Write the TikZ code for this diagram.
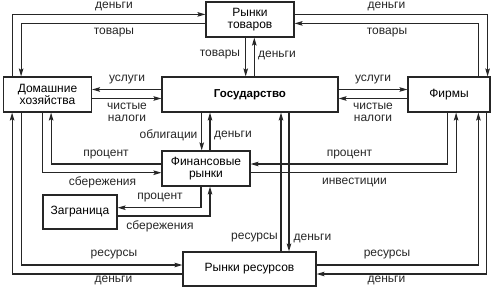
\documentclass[tikz,border=0pt]{standalone}
\usepackage{fontspec}
\setmainfont{Liberation Sans}
\usetikzlibrary{arrows.meta, calc}
\tikzset{
  market_box/.style={rectangle, draw=black!85, line width=1.2pt, align=center, inner sep=0pt, font=\fontsize{12}{12.7}\selectfont},
  flow_label/.style={align=center, inner sep=0pt, text=black!85, font=\fontsize{12}{11.5}\selectfont},
  arrow/.style={-{Stealth[length=8pt, width=4.6pt, inset=1.5pt]}, line width=1.1pt, black!85}
}

\begin{document}
\begin{tikzpicture}[x=1pt, y=-1pt]
\useasboundingbox (0,0) rectangle (500,289);

    % 1. Boxes
    \node[market_box, minimum width=88pt, minimum height=35pt] (goods_mkt) at (250,19.5) {Рынки\\товаров};
    \node[market_box, minimum width=176pt, minimum height=35pt, font=\fontsize{11.5}{12.7}\selectfont\bfseries] (gov) at (250,94.5) {Государство};
    \node[market_box, minimum width=88pt, minimum height=35pt] (house) at (47.5,94.5) {Домашние\\хозяйства};
    \node[market_box, minimum width=82pt, minimum height=35pt] (firms) at (449,94.5) {Фирмы};
    \node[market_box, minimum width=88pt, minimum height=35pt] (fin_mkt) at (206,168.5) {Финансовые\\рынки};
    \node[market_box, minimum width=74pt, minimum height=34pt] (abroad) at (80,212) {Заграница};
    \node[market_box, minimum width=133pt, minimum height=34pt] (res_mkt) at (249.5,269) {Рынки ресурсов};

    % 2. Goods market loops
    \draw[arrow] ($(house.north west)+(9.2,0)$) |- ($(goods_mkt.north west)+(0,13)$);
    \draw[arrow] ($(goods_mkt.north west)+(0,22)$) -| ($(house.north west)+(18.2,0)$);
    \draw[arrow] ($(goods_mkt.north east)+(0,13)$) -| ($(firms.north east)+(-3,0)$);
    \draw[arrow] ($(firms.north east)+(-12,0)$) |- ($(goods_mkt.north east)+(0,22)$);
    \draw[arrow] ($(goods_mkt.south)+(-4.3,0)$) -- ($(gov.north)+(-4.3,0)$);
    \draw[arrow] ($(gov.north)+(4.3,0)$) -- ($(goods_mkt.south)+(4.3,0)$);

    % 3. Government flows
    \draw[arrow] ($(gov.west)+(0,-5)$) -- ($(house.east)+(0,-5)$);
    \draw[arrow] ($(house.east)+(0,4)$) -- ($(gov.west)+(0,4)$);
    \draw[arrow] ($(gov.east)+(0,-5)$) -- ($(firms.west)+(0,-5)$);
    \draw[arrow] ($(firms.west)+(0,4)$) -- ($(gov.east)+(0,4)$);
    \draw[arrow] ($(gov.south)+(-48.3,0)$) -- ($(fin_mkt.north)+(-4.3,0)$);
    \draw[arrow] ($(fin_mkt.north)+(4,0)$) -- ($(gov.south)+(-40,0)$);
    \draw[arrow] ($(res_mkt.north)+(31.5,0)$) -- ($(gov.south)+(31,0)$);
    \draw[arrow] ($(gov.south)+(39,0)$) -- ($(res_mkt.north)+(39.5,0)$);

    % 4. Financial market flows
    \draw[arrow] ($(fin_mkt.west)+(0,-4.5)$) -| ($(house.south west)+(48.2,0)$);
    \draw[arrow] ($(house.south west)+(39.2,0)$) |- ($(fin_mkt.west)+(0,4.2)$);
    \draw[arrow] ($(fin_mkt.south)+(-5,0)$) |- ($(abroad.east)+(0,-4.3)$);
    \draw[arrow] ($(abroad.east)+(0,4)$) -| ($(fin_mkt.south)+(4,0)$);
    \draw[arrow] ($(firms.south west)+(40.3,0)$) |- ($(fin_mkt.east)+(0,-4.5)$);
    \draw[arrow] ($(fin_mkt.east)+(0,4.2)$) -| ($(firms.south west)+(48.7,0)$);

    % 5. Resource market loops
    \draw[arrow] ($(house.south west)+(18.2,0)$) |- ($(res_mkt.west)+(0,-4)$);
    \draw[arrow] ($(res_mkt.west)+(0,5)$) -| ($(house.south west)+(9.2,0)$);
    \draw[arrow] ($(res_mkt.east)+(0,-4)$) -| ($(firms.south west)+(71,0)$);
    \draw[arrow] ($(firms.south west)+(79,0)$) |- ($(res_mkt.east)+(0,5)$);

    % 6. Labels
    \node[flow_label] (l_hh_money) at (114,6) {деньги};
    \node[flow_label] (l_hh_goods) at (114,33) {товары};
    \node[flow_label] (l_fi_money) at (386.5,6) {деньги};
    \node[flow_label] (l_fi_goods) at (387,33) {товары};
    \node[flow_label] (l_gv_goods) at (220,55) {товары};
    \node[flow_label] (l_gv_money) at (277,55) {деньги};
    \node[flow_label] (l_hh_serv) at (127,80) {услуги};
    \node[flow_label] (l_hh_tax) at (127,112.5) {чистые\\налоги};
    \node[flow_label] (l_fi_serv) at (373,80) {услуги};
    \node[flow_label] (l_fi_tax) at (373,112.5) {чистые\\налоги};
    \node[flow_label] (l_bonds) at (168.5,135) {облигации};
    \node[flow_label] (l_bond_money) at (233,135) {деньги};
    \node[flow_label] (l_hh_int) at (106,155) {процент};
    \node[flow_label] (l_hh_sav) at (102.5,182.7) {сбережения};
    \node[flow_label] (l_ab_int) at (160,198) {процент};
    \node[flow_label] (l_ab_sav) at (160,226) {сбережения};
    \node[flow_label] (l_fi_int) at (349.5,155) {процент};
    \node[flow_label] (l_fi_inv) at (354.5,182.7) {инвестиции};
    \node[flow_label] (l_gv_res) at (254.5,238) {ресурсы};
    \node[flow_label] (l_gv_resmoney) at (312.5,238) {деньги};
    \node[flow_label] (l_hh_res) at (114,255) {ресурсы};
    \node[flow_label] (l_hh_resmoney) at (113.5,280.7) {деньги};
    \node[flow_label] (l_fi_res) at (387,255) {ресурсы};
    \node[flow_label] (l_fi_resmoney) at (386.5,280.7) {деньги};

\end{tikzpicture}
\end{document}
